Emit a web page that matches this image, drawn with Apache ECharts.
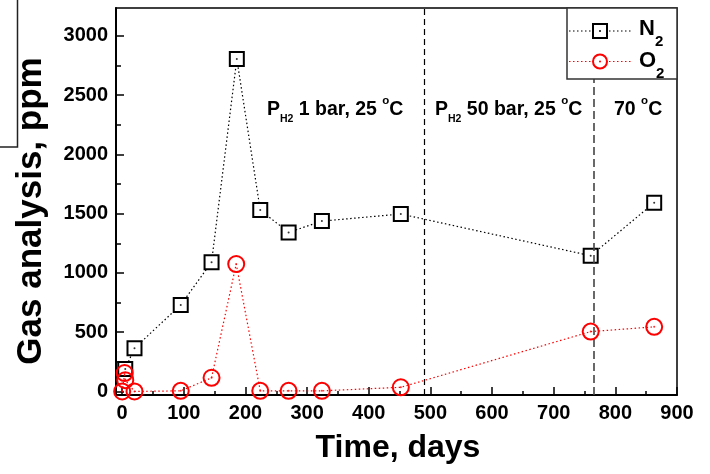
<!DOCTYPE html>
<html>
<head>
<meta charset="utf-8">
<script src="https://cdn.jsdelivr.net/npm/echarts@6/dist/echarts.min.js"></script>
<style>html,body{margin:0;padding:0;background:#fff}#c{width:710px;height:474px}</style>
</head>
<body>
<div id="c"></div>
<script>
// ---- data ----
const n2Days = [5, 20, 95, 145, 186, 224, 270, 324, 452, 760, 863];
const n2Ppm  = [190, 365, 730, 1090, 2805, 1530, 1342, 1437, 1497, 1145, 1592];
const o2Days = [0, 4, 5, 20, 95, 145, 185, 224, 270, 324, 452, 760, 863];
const o2Ppm  = [0, 155, 95, 0, 5, 115, 1075, 5, 5, 5, 35, 505, 545];
const xTickValues = [0, 100, 200, 300, 400, 500, 600, 700, 800, 900];
const xMinorValues = [50, 150, 250, 350, 450, 550, 650, 750, 850];
const yTickValues = [0, 500, 1000, 1500, 2000, 2500, 3000];
const yMinorValues = [250, 750, 1250, 1750, 2250, 2750];
const phaseBoundaries = [490, 765];
const seriesNames = ['N2', 'O2'];

const FONT = 'Liberation Sans, Arial, sans-serif';
const n2 = n2Days.map((d, i) => [d, n2Ppm[i]]);
const o2 = o2Days.map((d, i) => [d, o2Ppm[i]]);

const chart = echarts.init(document.getElementById('c'), null, {renderer: 'canvas'});
const xMin = -10, xMax = 900, yMin = -30, yMax = 3235;

const baseX = {type: 'value', min: xMin, max: xMax, splitLine: {show: false}};
const baseY = {type: 'value', min: yMin, max: yMax, splitLine: {show: false}};

const richMain = (fs, lh) => ({fontSize: fs, fontWeight: 'bold', fontFamily: FONT, color: '#000', lineHeight: lh, verticalAlign: 'middle'});
const plain = v => String(v);
const annRich = {
  m: richMain(19.5, 30),
  s: {fontSize: 10.5, fontWeight: 'bold', fontFamily: FONT, color: '#000', lineHeight: 24, verticalAlign: 'bottom'},
  o: {fontSize: 11.5, fontWeight: 'bold', fontFamily: FONT, color: '#000', lineHeight: 8, verticalAlign: 'top'}
};

const option = {
  animation: false,
  backgroundColor: '#fff',
  grid: {left: 116, right: 33, top: 8, bottom: 79, show: true, borderColor: '#000', borderWidth: 1.5, outerBoundsMode: 'none', containLabel: false},
  xAxis: [
    Object.assign({}, baseX, {
      axisLine: {show: true, onZero: false, lineStyle: {color: '#000', width: 2}},
      axisTick: {show: true, inside: true, length: 8, lineStyle: {color: '#000', width: 1.5}, customValues: xTickValues},
      axisLabel: {show: true, margin: 8, fontSize: 20, fontWeight: 'bold', fontFamily: FONT, color: '#000', customValues: xTickValues, formatter: plain}
    }),
    Object.assign({}, baseX, {
      position: 'bottom',
      axisLine: {show: false, onZero: false},
      axisTick: {show: true, inside: true, length: 4, lineStyle: {color: '#000', width: 1.5}, customValues: xMinorValues},
      axisLabel: {show: false}
    })
  ],
  yAxis: [
    Object.assign({}, baseY, {
      axisLine: {show: true, onZero: false, lineStyle: {color: '#000', width: 2}},
      axisTick: {show: true, inside: true, length: 8, lineStyle: {color: '#000', width: 1.5}, customValues: yTickValues},
      axisLabel: {show: true, margin: 8, fontSize: 20, fontWeight: 'bold', fontFamily: FONT, color: '#000', customValues: yTickValues, formatter: plain}
    }),
    Object.assign({}, baseY, {
      position: 'left',
      axisLine: {show: false, onZero: false},
      axisTick: {show: true, inside: true, length: 5, lineStyle: {color: '#000', width: 1.5}, customValues: yMinorValues},
      axisLabel: {show: false}
    })
  ],
  series: [
    {
      name: seriesNames[0], type: 'line', data: n2, z: 3,
      symbol: 'rect', symbolSize: 14,
      itemStyle: {color: '#fff', borderColor: '#000', borderWidth: 2},
      lineStyle: {color: '#000', width: 1.2, type: [1.5, 2.5]},
      markLine: {
        silent: true, symbol: ['none', 'none'], label: {show: false},
        data: [
          {xAxis: phaseBoundaries[0], lineStyle: {color: '#000', width: 1.2, type: [6, 4]}},
          {xAxis: phaseBoundaries[1], lineStyle: {color: '#444', width: 1.6, type: [8, 4]}}
        ]
      }
    },
    {name: 'n2c', type: 'scatter', data: n2, symbolSize: 2, itemStyle: {color: '#000'}, silent: true, z: 4},
    {
      name: seriesNames[1], type: 'line', data: o2, z: 5,
      symbol: 'circle', symbolSize: 16,
      itemStyle: {color: 'rgba(255,255,255,0)', borderColor: '#ff0000', borderWidth: 2},
      lineStyle: {color: '#ff0000', width: 1.2, type: [1.5, 2.5]}
    },
    {name: 'o2c', type: 'scatter', data: o2, symbolSize: 2, itemStyle: {color: '#ff0000'}, silent: true, z: 6}
  ],
  graphic: [
    // axis titles
    {type: 'text', x: 31, y: 211, rotation: Math.PI / 2, z: 10,
      style: {text: 'Gas analysis, ppm', font: 'bold 35px ' + FONT, fill: '#000', align: 'center', verticalAlign: 'middle'}},
    {type: 'text', x: 398, y: 448, z: 10,
      style: {text: 'Time, days', font: 'bold 32px ' + FONT, fill: '#000', align: 'center', verticalAlign: 'middle'}},
    // phase annotations
    {type: 'text', x: 267, y: 110, z: 10, style: {
      text: '{m|P}{s|H2}{m| 1 bar, 25 }{o|o}{m|C}', align: 'left', verticalAlign: 'middle', rich: annRich}},
    {type: 'text', x: 435, y: 110, z: 10, style: {
      text: '{m|P}{s|H2}{m| 50 bar, 25 }{o|o}{m|C}', align: 'left', verticalAlign: 'middle', rich: annRich}},
    {type: 'text', x: 614, y: 110, z: 10, style: {
      text: '{m|70 }{o|o}{m|C}', align: 'left', verticalAlign: 'middle', rich: annRich}},
    // legend box
    {type: 'rect', shape: {x: 567, y: 8, width: 110, height: 71}, z: 20,
      style: {fill: '#fff', stroke: '#333', lineWidth: 1.5}},
    {type: 'line', shape: {x1: 569, y1: 31, x2: 632, y2: 31}, z: 21, style: {stroke: '#000', lineWidth: 1.2, lineDash: [1.5, 2.5]}},
    {type: 'rect', shape: {x: 593, y: 24, width: 14, height: 14}, z: 22, style: {fill: '#fff', stroke: '#000', lineWidth: 2}},
    {type: 'circle', shape: {cx: 600, cy: 31, r: 1}, z: 23, style: {fill: '#000'}},
    {type: 'line', shape: {x1: 569, y1: 61.5, x2: 632, y2: 61.5}, z: 21, style: {stroke: '#ff0000', lineWidth: 1.2, lineDash: [1.5, 2.5]}},
    {type: 'circle', shape: {cx: 600, cy: 61.5, r: 7}, z: 22, style: {fill: '#fff', stroke: '#ff0000', lineWidth: 2}},
    {type: 'circle', shape: {cx: 600, cy: 61.5, r: 1}, z: 23, style: {fill: '#ff0000'}},
    {type: 'text', x: 639, y: 29, z: 23, style: {
      text: '{m|N}{s|2}', align: 'left', verticalAlign: 'middle',
      rich: {m: richMain(22, 40), s: {fontSize: 15, fontWeight: 'bold', fontFamily: FONT, color: '#000', lineHeight: 18, verticalAlign: 'bottom'}}}},
    {type: 'text', x: 639, y: 61, z: 23, style: {
      text: '{m|O}{s|2}', align: 'left', verticalAlign: 'middle',
      rich: {m: richMain(22, 40), s: {fontSize: 15, fontWeight: 'bold', fontFamily: FONT, color: '#000', lineHeight: 18, verticalAlign: 'bottom'}}}},
    // stray frame fragment at top-left
    {type: 'polyline', shape: {points: [[17.5, 0], [17.5, 147], [0, 147]]}, z: 10, style: {stroke: '#222', lineWidth: 1.5, fill: null}}
  ]
};
chart.setOption(option);
</script>
</body>
</html>
